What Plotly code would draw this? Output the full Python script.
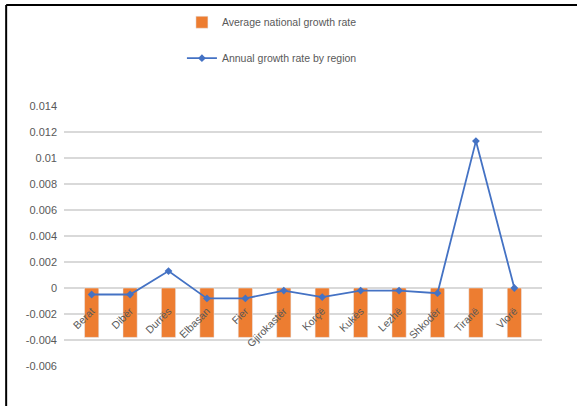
import plotly.graph_objects as go

regions = ["Berat", "Dibër", "Durrës", "Elbasan", "Fier", "Gjirokastër",
           "Korçë", "Kukës", "Lezhë", "Shkodër", "Tiranë", "Vlorë"]
national_rate = [-0.0038] * 12
regional_rate = [-0.0005, -0.0005, 0.0013, -0.0008, -0.0008, -0.0002,
                 -0.0007, -0.0002, -0.0002, -0.0004, 0.0113, 0.0000]
y_ticks = [0.014, 0.012, 0.01, 0.008, 0.006, 0.004, 0.002, 0, -0.002, -0.004, -0.006]
y_tick_text = ["0.014", "0.012", "0.01", "0.008", "0.006", "0.004", "0.002", "0",
               "-0.002", "-0.004", "-0.006"]

fig = go.Figure()
fig.add_trace(go.Bar(
    x=regions, y=national_rate, name="Average national growth rate",
    marker_color="#ED7D31", width=0.37, legendgroup="a"))
fig.add_trace(go.Scatter(
    x=regions, y=regional_rate, name="Annual growth rate by region",
    mode="lines+markers", line=dict(color="#4472C4", width=1.8),
    marker=dict(symbol="diamond", size=6, color="#4472C4"), legendgroup="b"))

fig.update_layout(
    width=577, height=406,
    margin=dict(l=64, r=35, t=106, b=40, autoexpand=False),
    paper_bgcolor="white", plot_bgcolor="white",
    font=dict(family="Liberation Sans, Arial, sans-serif", color="#595959", size=10),
    showlegend=True,
    legend=dict(orientation="v", x=0.435, xanchor="center", y=1.378, yanchor="top",
                font=dict(size=10.5, color="#595959"), tracegroupgap=17,
                bgcolor="rgba(0,0,0,0)"),
    xaxis=dict(anchor="free", position=0.3, tickangle=-45, showline=False,
               showgrid=False, ticks="", ticklabelstandoff=14, automargin=False,
               tickfont=dict(size=10.5, color="#595959")),
    yaxis=dict(range=[-0.006, 0.014], tickvals=y_ticks, ticktext=y_tick_text,
               showgrid=True, gridcolor="#D9D9D9", gridwidth=1.5, zeroline=False,
               showline=False, ticks="", ticklabelstandoff=6, automargin=False,
               tickfont=dict(size=11, color="#595959")),
    shapes=[
        dict(type="line", xref="paper", yref="paper", x0=-0.121, x1=1.1,
             y0=1.388, y1=1.388, line=dict(color="black", width=2)),
        dict(type="line", xref="paper", yref="paper", x0=-0.121, x1=-0.121,
             y0=1.388, y1=-0.2, line=dict(color="black", width=2)),
    ],
)

fig.write_html("out.html")
